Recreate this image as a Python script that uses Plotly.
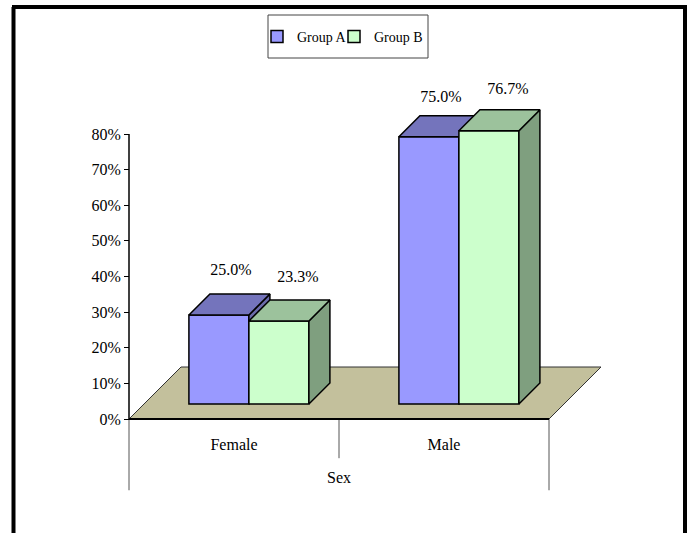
import plotly.graph_objects as go

categories = ["Female", "Male"]
group_a = [25.0, 75.0]
group_b = [23.3, 76.7]
y_ticks = [0, 10, 20, 30, 40, 50, 60, 70, 80]

W, H = 688, 533
X0, X1, Y0, Y80 = 129, 549, 419, 134
PX_X = (X1 - X0) / 2
PX_Y = (Y0 - Y80) / 80
FONT = "Liberation Serif"
INK = "#000000"
BAR_W = 60 / PX_X
CENTER = 0.571
FLOOR_DX, FLOOR_DY = 52 / PX_X, 52 / PX_Y
BASE = 15 / PX_Y
DX, DY = 21 / PX_X, 21 / PX_Y
X_RANGE = [-X0 / PX_X, (W - X0) / PX_X]
Y_RANGE = [-(H - Y0) / PX_Y, Y0 / PX_Y]

fig = go.Figure()

# floor, axis lines and category dividers on the base subplot
fig.add_trace(go.Scatter(
    x=[0, 2, 2 + FLOOR_DX, FLOOR_DX, 0], y=[0, 0, FLOOR_DY, FLOOR_DY, 0],
    mode="lines", fill="toself", fillcolor="#C3C09C",
    line=dict(color="#333333", width=1), showlegend=False, hoverinfo="skip"))
for x, bottom in [(0, -20), (1, -11), (2, -20)]:
    fig.add_trace(go.Scatter(
        x=[x, x], y=[0, bottom], mode="lines",
        line=dict(color="#555555", width=1), showlegend=False, hoverinfo="skip"))
fig.add_trace(go.Scatter(x=[0, 2], y=[0, 0], mode="lines",
                         line=dict(color=INK, width=2), showlegend=False, hoverinfo="skip"))
fig.add_trace(go.Scatter(x=[0, 0], y=[0, 80], mode="lines",
                         line=dict(color=INK, width=1.5), showlegend=False, hoverinfo="skip"))


def add_group(name, values, offset, front, top, side, ax, legend, label_dx, label_up):
    xa, ya = f"x{ax}", f"y{ax}"
    fig.add_trace(go.Bar(
        x=[i + CENTER + offset for i in range(len(values))], y=values, base=BASE,
        width=BAR_W, name=name, marker=dict(color=front, line=dict(color=INK, width=1.5)),
        cliponaxis=False, xaxis=xa, yaxis=ya, hoverinfo="skip", legend=legend))
    for i, v in enumerate(values):
        l = i + CENTER + offset - BAR_W / 2
        r = l + BAR_W
        t = BASE + v
        fig.add_trace(go.Scatter(
            x=[r, r + DX, r + DX, r, r], y=[BASE, BASE + DY, t + DY, t, BASE],
            mode="lines", fill="toself", fillcolor=side, line=dict(color=INK, width=1.5),
            showlegend=False, xaxis=xa, yaxis=ya, hoverinfo="skip"))
        fig.add_trace(go.Scatter(
            x=[l, l + DX, r + DX, r, l], y=[t, t + DY, t + DY, t, t],
            mode="lines", fill="toself", fillcolor=top, line=dict(color=INK, width=1.5),
            showlegend=False, xaxis=xa, yaxis=ya, hoverinfo="skip"))
    fig.add_trace(go.Scatter(
        x=[i + CENTER + offset + label_dx for i in range(len(values))],
        y=[BASE + v + up for v, up in zip(values, label_up)],
        text=[f"{v:.1f}%" for v in values], mode="text",
        textfont=dict(family=FONT, size=16, color=INK),
        showlegend=False, xaxis=xa, yaxis=ya, hoverinfo="skip"))


add_group("Group A", group_a, -BAR_W / 2, "#9999FF", "#7474BC", "#6A6AA8", 2,
          "legend", 12 / PX_X, [12.2, 10.8])
add_group("Group B", group_b, BAR_W / 2, "#CCFFCC", "#9CC29C", "#7F9F7F", 3,
          "legend2", 19 / PX_X, [12.2, 11.4])

hidden = dict(visible=False, fixedrange=True)
legend_style = dict(yanchor="top", y=1 - 21 / H, xanchor="left", borderwidth=0,
                    bgcolor="rgba(0,0,0,0)", font=dict(family=FONT, size=14))
fig.update_layout(
    width=W, height=H, margin=dict(l=0, r=0, t=0, b=0, autoexpand=False),
    paper_bgcolor="white", plot_bgcolor="rgba(0,0,0,0)",
    font=dict(family=FONT, size=16, color=INK), barmode="overlay",
    xaxis=dict(domain=[0, 1], range=X_RANGE, tickvals=[0.5, 1.5], ticktext=categories,
               anchor="free", position=(H - Y0) / H,
               ticks="", showgrid=False, zeroline=False, showline=False,
               ticklabelstandoff=14, tickfont=dict(family=FONT, size=16)),
    yaxis=dict(domain=[0, 1], range=Y_RANGE, tickvals=y_ticks,
               ticktext=[f"{v}%" for v in y_ticks], ticks="outside", ticklen=5,
               anchor="free", position=X0 / W,
               tickcolor=INK, showgrid=False, zeroline=False, showline=False,
               tickfont=dict(family=FONT, size=16)),
    xaxis2=dict(domain=[0, 1], range=X_RANGE, overlaying="x", **hidden),
    yaxis2=dict(domain=[0, 1], range=Y_RANGE, overlaying="y", **hidden),
    xaxis3=dict(domain=[0, 1], range=X_RANGE, overlaying="x", **hidden),
    yaxis3=dict(domain=[0, 1], range=Y_RANGE, overlaying="y", **hidden),
    legend=dict(x=257 / W, **legend_style),
    legend2=dict(x=334 / W, **legend_style),
    annotations=[dict(text="Sex", x=1, y=-16.5, xref="x", yref="y", showarrow=False,
                      font=dict(family=FONT, size=16, color=INK))],
    shapes=[
        dict(type="rect", xref="paper", yref="paper", x0=268 / W, x1=428 / W,
             y0=1 - 15 / H, y1=1 - 58 / H, line=dict(color="#444444", width=1)),
        dict(type="line", xref="paper", yref="paper", x0=13.5 / W, x1=13.5 / W,
             y0=0, y1=1 - 7 / H, line=dict(color=INK, width=4)),
        dict(type="line", xref="paper", yref="paper", x0=685 / W, x1=685 / W,
             y0=0, y1=1 - 7 / H, line=dict(color=INK, width=4)),
        dict(type="line", xref="paper", yref="paper", x0=12 / W, x1=687 / W,
             y0=1 - 7 / H, y1=1 - 7 / H, line=dict(color=INK, width=4)),
    ],
)
fig.write_html("out.html", config=dict(displayModeBar=False),
               post_script="document.body.style.margin='0';")
